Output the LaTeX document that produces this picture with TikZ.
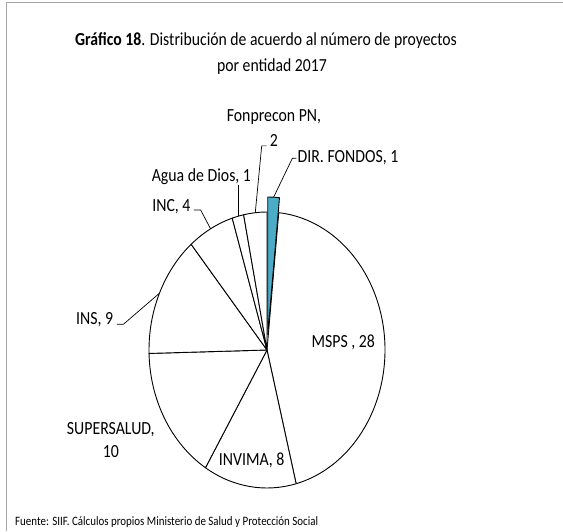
\documentclass[tikz,border=0pt]{standalone}
\usepackage{fontspec}
\setmainfont{Carlito}[FakeStretch=0.855]
\usepackage{tikz}
\usetikzlibrary{positioning,calc}
\definecolor{fondos}{RGB}{75,172,198}
\definecolor{framegray}{RGB}{165,165,165}

\begin{document}
\begin{tikzpicture}[x=1pt, y=1pt,
    slice/.style={draw=black, line width=0.9pt, fill=white, line join=round},
    lbl/.style={inner sep=0pt, font=\fontsize{18.5}{22.3}\selectfont},
    leader/.style={draw=black, line width=0.7pt}]
    \useasboundingbox (0,0) rectangle (563,531);
    % Frame
    \draw[draw=framegray, line width=1.2pt] (563,528.7) -- (6.7,528.7) -- (6.7,0);

    % Title
    \node[inner sep=0pt, align=center, anchor=base, font=\fontsize{18.4}{26.5}\selectfont] (title) at (272,459)
        {\textbf{Gráfico 18}. Distribución de acuerdo al número de proyectos\hspace*{12pt}\\por entidad 2017};

    % Pie, clockwise from the top
    \coordinate (ctr) at (267,181);
    \foreach \a/\b in {84.29/-75.71, -75.71/-121.43, -121.43/-178.57, -178.57/-230,
                       -230/-252.86, -252.86/-258.57, -258.57/-270}
        \draw[slice] (ctr) -- ($(ctr)+(\a:118 and 138)$)
            arc[start angle=\a, end angle=\b, x radius=118, y radius=138] -- cycle;
    % DIR. FONDOS: pulled out
    \draw[slice, fill=fondos] ($(ctr)+(0.75,15)$) -- ++(0,138)
        arc[start angle=90, end angle=84.29, x radius=118, y radius=138] -- cycle;

    % Points where the leaders touch the slices
    \coordinate (fon-m) at ($(ctr)+(95.71:118 and 138)$);
    \coordinate (agua-m) at ($(ctr)+(104.29:118 and 138)$);
    \coordinate (inc-m) at ($(ctr)+(118.57:118 and 138)$);
    \coordinate (ins-m) at ($(ctr)+(155.71:118 and 138)$);
    \coordinate (dir-m) at ($(ctr)+(0.75,15)+(87.14:118 and 138)$);

    % Labels
    \node[lbl, anchor=base] (msps) at (343.3,183.7) {MSPS , 28};
    \node[lbl, anchor=base] (invima) at (251.7,66) {INVIMA, 8};
    \node[lbl, anchor=base, align=center] (super) at (110.8,73.7) {SUPERSALUD,\\10};
    \node[lbl, anchor=base] (ins) at (94.7,206) {INS, 9};
    \node[lbl, anchor=base] (inc) at (171.4,319.3) {INC, 4};
    \node[lbl, anchor=base] (agua) at (201.4,349.3) {Agua de Dios, 1};
    \node[lbl, anchor=base, align=center, font=\fontsize{18.5}{25}\selectfont] (fon) at (274,384.3) {Fonprecon PN,\\2};
    \node[lbl, anchor=base] (dir) at (348,368) {DIR. FONDOS, 1};

    % Leaders
    \draw[leader] (ins.base east) ++(3.4,0.7) -- ++(6.6,0) -- (ins-m);
    \draw[leader] (inc.base east) ++(3.3,1.7) -- ++(6.7,0) -- (inc-m);
    \draw[leader] (agua-m) -- (agua-m |- agua.south);
    \draw[leader] (fon.south) ++(-7.3,1) -- ++(-5,0) -- (fon-m);
    \draw[leader] (dir.west) ++(-1,0) -- ++(-4,0) -- (dir-m);

    % Source
    \node[anchor=base west, inner sep=0pt, font=\fontsize{12.8}{14}\selectfont] (src) at (15,6)
        {Fuente: SIIF. Cálculos propios Ministerio de Salud y Protección Social};
\end{tikzpicture}
\end{document}
